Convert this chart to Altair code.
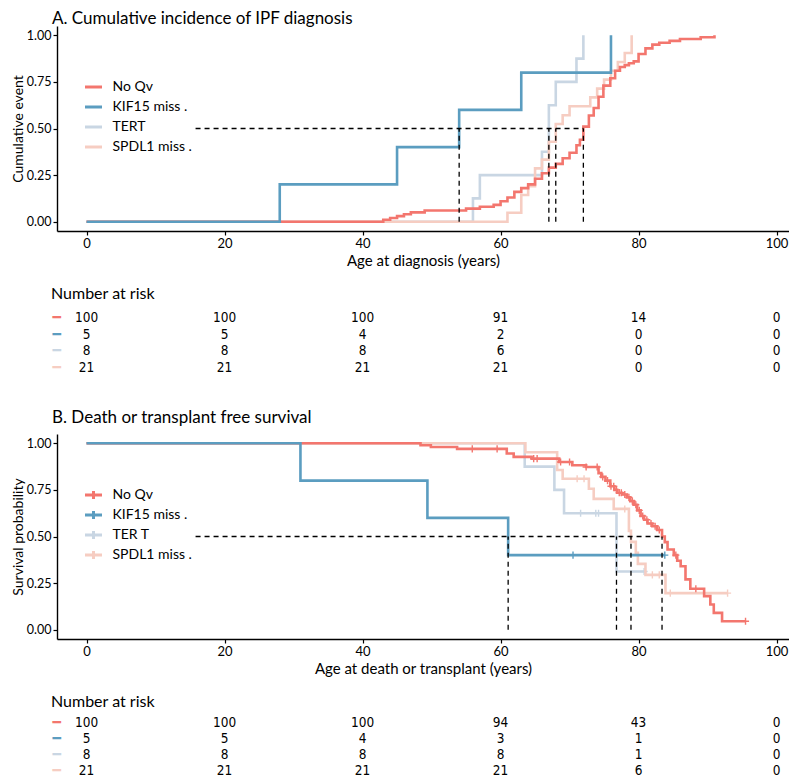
import altair as alt
import pandas as pd

# ---------------- data ----------------
groups_a = ["No Qv", "KIF15 miss .", "TERT", "SPDL1 miss ."]
groups_b = ["No Qv", "KIF15 miss .", "TER T", "SPDL1 miss ."]
colors = ["#F3766E", "#5B9DC0", "#C9D6E3", "#F6CDC2"]
draw_order = [2, 3, 0, 1]  # bottom -> top

# Panel A: cumulative incidence of IPF diagnosis (step points)
a_noqv_t = [0, 43, 44, 45, 46, 47, 49, 55, 57, 59, 60, 61, 62, 63, 64, 65, 66, 67, 68, 69, 70, 71,
            71.5, 72, 72.8, 73.5, 74.2, 74.9, 75.9, 76.6, 77.3, 78, 78.6, 79.3, 80, 81, 82, 83, 84.5, 86, 89, 91]
a_noqv_v = [0, .01, .02, .03, .04, .05, .06, .07, .08, .09, .11, .13, .16, .18, .20, .23, .26, .29, .31, .34, .37, .41,
            .44, .51, .57, .61, .67, .73, .77, .81, .83, .84, .85, .86, .90, .93, .95, .96, .97, .98, .99, 1.0]
a_kif_t = [0, 28, 45, 54, 63, 76]
a_kif_v = [0, .2, .4, .6, .8, 1.0]
a_tert_t = [0, 56, 57, 66, 67, 68, 71, 72]
a_tert_v = [0, .125, .25, .375, .625, .75, .875, 1.0]
a_spdl_t = [0, 61, 63, 64, 65, 66, 67, 68, 69, 70, 73, 74, 75, 76, 77, 78, 79]
a_spdl_v = [0, .048, .143, .190, .286, .333, .429, .524, .571, .619, .667, .714, .762, .810, .857, .905, 1.0]
a_medians = [54, 67, 68, 72]
a_median_start = 15.8

# Panel B: death or transplant free survival (step points + censor times)
b_noqv_t = [0, 48.4, 49.9, 53.7, 60.9, 61.9, 64.5, 68.5, 70.4, 72.4, 74.2, 74.6, 75.2, 75.9, 76.5, 76.9, 77.6,
            78.3, 78.8, 79.3, 79.8, 80.3, 80.8, 81.3, 82.0, 82.7, 83.4, 83.8, 84.2, 85.1, 85.6, 86.1, 86.8, 87.5,
            89.5, 90.4, 90.9, 92.1, 95.5]
b_noqv_s = [1.0, .99, .98, .97, .945, .927, .918, .90, .882, .873, .84, .82, .80, .77, .75, .735, .725,
            .71, .69, .67, .64, .61, .59, .57, .555, .535, .50, .47, .43, .40, .37, .34, .27, .22,
            .18, .135, .09, .045, .045]
b_noqv_c = [55.9, 59.5, 64.8, 65.3, 68.7, 70.0, 72.4, 74.0, 74.8, 75.5, 76.0, 76.4, 76.8, 77.2, 77.5, 78.0,
            78.6, 79.1, 79.6, 80.1, 80.6, 81.2, 81.8, 82.4, 83.0, 85.4, 88.3, 95.5]
b_kif_t = [0, 31, 49.4, 61.1, 83.8]
b_kif_s = [1.0, .8, .6, .4, .4]
b_kif_c = [70.5, 83.8]
b_tert_t = [0, 63.5, 67.8, 69.2, 76.8, 80.8]
b_tert_s = [1.0, .875, .75, .625, .3125, .3125]
b_tert_c = [71.6, 73.8, 74.2, 80.8]
b_spdl_t = [0, 63.6, 68.2, 69.0, 72.8, 73.5, 76.4, 78.6, 78.9, 79.6, 79.9, 81.0, 83.9, 92.9]
b_spdl_s = [1.0, .952, .857, .810, .756, .702, .648, .530, .471, .412, .353, .294, .196, .196]
b_spdl_c = [71.1, 72.1, 78.0, 82.0, 83.0, 84.6, 92.9]
b_medians = [61.1, 76.8, 78.9, 83.4]
b_median_start = 15.8

# Number at risk tables
risk_times = [0, 20, 40, 60, 80, 100]
risk_a = [[100, 100, 100, 91, 14, 0], [5, 5, 4, 2, 0, 0], [8, 8, 8, 6, 0, 0], [21, 21, 21, 21, 0, 0]]
risk_b = [[100, 100, 100, 94, 43, 0], [5, 5, 4, 3, 1, 0], [8, 8, 8, 8, 1, 0], [21, 21, 21, 21, 6, 0]]

# ---------------- tables for Altair ----------------
def lines_df(groups, ts, vs):
    rows = []
    for g, t_list, v_list in zip(groups, ts, vs):
        for t, v in zip(t_list, v_list):
            rows.append({"grp": g, "t": t, "v": v})
    return pd.DataFrame(rows)

def step_at(t_list, v_list, tc):
    val = v_list[0]
    for t, v in zip(t_list, v_list):
        if t <= tc:
            val = v
    return val

def cens_df(groups, ts, vs, cs):
    rows = []
    for g, t_list, v_list, c_list in zip(groups, ts, vs, cs):
        for c in c_list:
            rows.append({"grp": g, "t": c, "v": step_at(t_list, v_list, c)})
    return pd.DataFrame(rows)

def risk_df(groups, table):
    rows = []
    for g, vals in zip(groups, table):
        for t, n in zip(risk_times, vals):
            rows.append({"grp": g, "t": t, "n": n})
    return pd.DataFrame(rows)

dfA = lines_df(groups_a, [a_noqv_t, a_kif_t, a_tert_t, a_spdl_t], [a_noqv_v, a_kif_v, a_tert_v, a_spdl_v])
b_ts = [b_noqv_t, b_kif_t, b_tert_t, b_spdl_t]
b_vs = [b_noqv_s, b_kif_s, b_tert_s, b_spdl_s]
dfB = lines_df(groups_b, b_ts, b_vs)
dfBc = cens_df(groups_b, b_ts, b_vs, [b_noqv_c, b_kif_c, b_tert_c, b_spdl_c])

# ---------------- styling ----------------
FONT = "Lato"
NUMFONT = "Liberation Sans Narrow, DejaVu Sans Condensed, Lato"
W = 732
XDOM = [-4.28, 101.8]
YDOM = [-0.05, 1.05]
PLUS = "M-1,0H1M0,-1V1"
LEG_PLUS = "M-1,0H1M0,-0.47V0.47"


def panel(df_lines, df_cens, medians, med_start, groups, title, xtitle, ytitle, title_offset, plus):
    xs = alt.X("t:Q", scale=alt.Scale(domain=XDOM, nice=False, zero=False),
               axis=alt.Axis(values=risk_times, format="d", title=xtitle))
    ys = alt.Y("v:Q", scale=alt.Scale(domain=YDOM, nice=False, zero=False),
               axis=alt.Axis(values=[0, 0.25, 0.5, 0.75, 1.0], format=".2f", title=ytitle))
    leg = alt.Legend(orient="none", legendX=26.5, legendY=51, title=None, padding=0,
                     symbolType=LEG_PLUS if plus else "stroke", symbolSize=289,
                     symbolStrokeWidth=3, labelFont=FONT, labelFontSize=14, labelColor="black",
                     labelOffset=9, rowPadding=0 if plus else 3)
    col = alt.Color("grp:N", scale=alt.Scale(domain=groups, range=colors), legend=leg)
    layers = []
    for i in draw_order:
        g = groups[i]
        layers.append(
            alt.Chart(df_lines).transform_filter(alt.datum.grp == g)
            .mark_line(interpolate="step-after", strokeWidth=2.6)
            .encode(x=xs, y=ys, color=col)
        )
        if df_cens is not None:
            layers.append(
                alt.Chart(df_cens).transform_filter(alt.datum.grp == g)
                .mark_point(shape=PLUS, filled=False, size=50, strokeWidth=1.4, opacity=1)
                .encode(x=xs, y=ys, color=alt.Color("grp:N", scale=alt.Scale(domain=groups, range=colors), legend=None))
            )
    vdf = pd.DataFrame({"t": medians, "v": [0.0] * len(medians), "v2": [0.5] * len(medians)})
    hdf = pd.DataFrame({"t": [med_start], "t2": [max(medians)], "v": [0.5]})
    rule_style = dict(color="black", strokeDash=[5, 4], strokeWidth=1.3)
    layers.append(alt.Chart(vdf).mark_rule(**rule_style).encode(x=xs, y=ys, y2=alt.Y2("v2:Q")))
    layers.append(alt.Chart(hdf).mark_rule(**rule_style).encode(x=xs, x2=alt.X2("t2:Q"), y=ys))
    return alt.layer(*layers).properties(
        width=W, height=205,
        title=alt.TitleParams(title, anchor="start", frame="group", font=FONT, fontSize=17,
                              fontWeight="normal", color="black", offset=title_offset, dx=-5),
    )


def table(groups, table_vals, height, pad_outer, title_offset):
    cexpr = "".join(f"datum.value === '{g}' ? '{c}' : " for g, c in zip(groups, colors)) + "'black'"
    df = risk_df(groups, table_vals)
    return alt.Chart(df).mark_text(font=NUMFONT, fontSize=13.5, color="black").encode(
        x=alt.X("t:Q", scale=alt.Scale(domain=XDOM, nice=False, zero=False), axis=None),
        y=alt.Y("grp:N", scale=alt.Scale(type="band", domain=groups, paddingInner=0,
                                         paddingOuter=pad_outer, align=0),
                axis=alt.Axis(title=None, domain=False, ticks=False, tickSize=0, labelExpr="'━'",
                              labelColor=alt.ExprRef(expr=cexpr), labelAlign="left", labelPadding=5,
                              labelFont="DejaVu Sans", labelFontSize=14)),
        text="n:Q",
    ).properties(
        width=W, height=height,
        title=alt.TitleParams("Number at risk", anchor="start", frame="group", font=FONT, fontSize=16,
                              fontWeight="normal", color="black", offset=title_offset, dx=-6),
    )


chartA = panel(dfA, None, a_medians, a_median_start, groups_a,
               "A. Cumulative incidence of IPF diagnosis", "Age at diagnosis (years)", "Cumulative event", -2, False)
tableA = table(groups_a, risk_a, 81, 0.4545, 8)
chartB = panel(dfB, dfBc, b_medians, b_median_start, groups_b,
               "B. Death or transplant free survival", "Age at death or transplant (years)",
               "Survival probability", 7, True)
tableB = table(groups_b, risk_b, 64, 0.0, 5)

chart = alt.vconcat(chartA, tableA, chartB, tableB, spacing=18).resolve_scale(
    color="independent", x="independent", y="independent"
).properties(
    padding={"left": 3, "top": 2, "right": 0, "bottom": 0}, background="white"
).configure_view(stroke=None).configure_axis(
    grid=False, domainColor="black", domainWidth=1.4, tickColor="black", tickWidth=1.2, tickSize=4,
    labelColor="black", titleColor="black", labelFont=FONT, titleFont=FONT, labelFontSize=12.5,
    titleFontSize=14, titleFontWeight="normal", labelPadding=2,
).configure_axisX(titlePadding=3, labelFontSize=13, titleFontSize=15).configure_axisY(titlePadding=1)

chart.save("out.html", embed_options={"renderer": "svg", "actions": False})
